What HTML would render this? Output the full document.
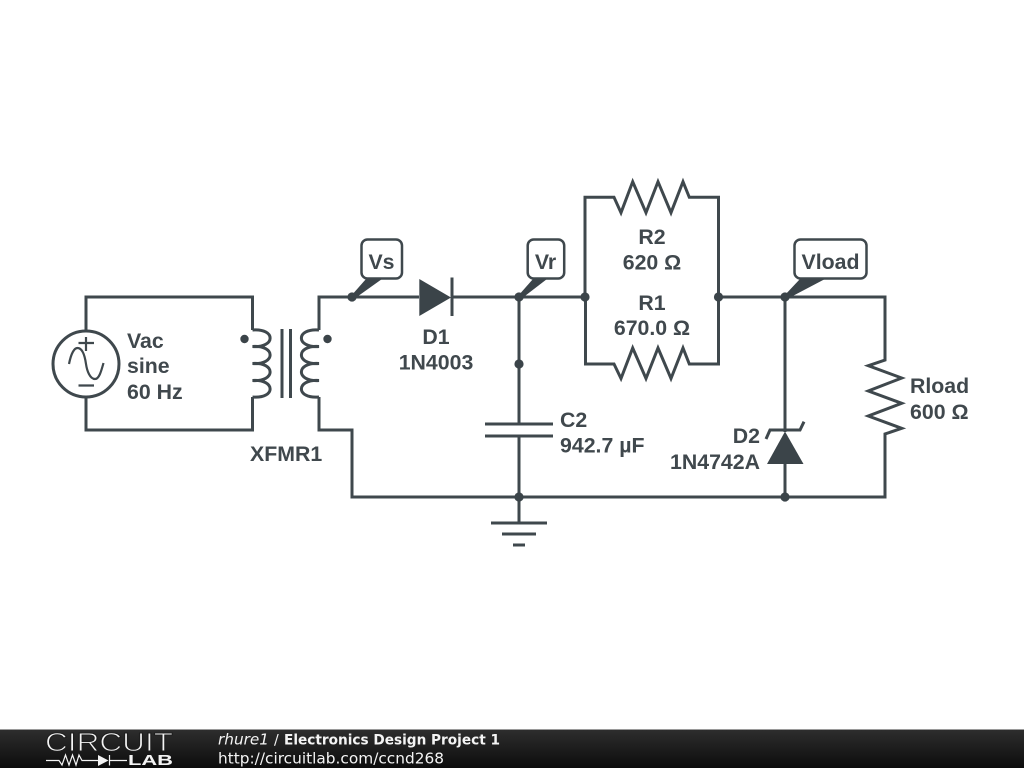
<!DOCTYPE html>
<html><head><meta charset="utf-8"><style>
html,body{margin:0;padding:0;background:#fff;width:1024px;height:768px;overflow:hidden}
svg{display:block}
.w{fill:none;stroke:#3f484d;stroke-width:3;stroke-linejoin:miter}
.t{font:bold 21.3px "Liberation Sans",sans-serif;fill:#40484d}
.m{text-anchor:middle}
.e{text-anchor:end}
.f{font-family:"DejaVu Sans",sans-serif;fill:#f4f4f4}
</style></head><body>
<svg width="1024" height="768" viewBox="0 0 1024 768" xmlns="http://www.w3.org/2000/svg">
<defs><linearGradient id="g" x1="0" y1="0" x2="0" y2="1"><stop offset="0" stop-color="#2e2e2e"/><stop offset="1" stop-color="#0c0c0c"/></linearGradient></defs>
<rect width="1024" height="768" fill="#fff"/>
<g class="w">
<path d="M86 331V297H252.500V330"/>
<path d="M86 397V430H252.500V397"/>
<circle cx="86" cy="364" r="33"/>
<path d="M252.500 330C276 328 276 348 252.500 346.500C276 345 276 365 252.500 363.500C276 362 276 382 252.500 380.500C276 379 276 399 252.500 397"/>
<path d="M319 330C295.500 328 295.500 348 319 346.500C295.500 345 295.500 365 319 363.500C295.500 362 295.500 382 319 380.500C295.500 379 295.500 399 319 397"/>
<path d="M282 329V398M290.500 329V398"/>
<path d="M319 330V297H419M452 297H585"/>
<path d="M319 397V430H352V497H885V434L901.700 428.300 868.300 416 901.700 403.300 868.300 391 901.700 378 868.300 365.700 885 360V297H718"/>
<path d="M452 277.500V316"/>
<path d="M519 297V424M519 436V523"/>
<path d="M485 424H553M485 436H553"/>
<path d="M491 523H547M502 534H536M513 545H525"/>
<path d="M585 297V197.300H614L621 212.700 632.700 181.700 646 212.700 658 181.700 671 212.700 683 181.700 689.300 197.300H718.500V364H689.300L683 348 671 378.500 658 348 646 378.500 632.700 348 621 378.500 614 364H585.500V297"/>
<path d="M785 297V432M785 463V497"/>
<path d="M766 439L770 430H800L804 421.700"/>
</g>
<g fill="none" stroke="#3f484d" stroke-width="2.200">
<path d="M69 364C71 354 74 348 77.500 348C83 348 85 357 86 364C87 371 90 379 95 379C99 379 101 372 103.500 363"/>
<path d="M78.500 343H94M86 337V351M78.500 385.500H94"/>
</g>
<g fill="#3b4449">
<circle cx="244.500" cy="339" r="4.200"/><circle cx="327.500" cy="339" r="4.200"/>
<path d="M419.300 279V316L451 297.500Z"/>
<path d="M785 431.500L767 464H803.500Z"/>
<circle cx="352" cy="297" r="4.600"/><circle cx="519" cy="297" r="4.600"/><circle cx="585" cy="297" r="4.600"/>
<circle cx="718.500" cy="297" r="4.600"/><circle cx="785" cy="297" r="4.600"/>
<circle cx="519" cy="364" r="4.600"/><circle cx="519" cy="497" r="4.600"/><circle cx="785" cy="497" r="4.600"/>
<path d="M351 296L366 279H382L354 299Z"/><path d="M518 296L533 279H547L521 299Z"/><path d="M784 296L800 279H825L787 299Z"/>
</g>
<g fill="#fff" stroke="#3f484d" stroke-width="2.500">
<rect x="361.500" y="239.500" width="40.500" height="39" rx="6"/>
<rect x="527.700" y="239.500" width="36.500" height="39" rx="6"/>
<rect x="794.500" y="239.500" width="72" height="39" rx="6"/>
</g>
<text class="t" x="127" y="348">Vac</text>
<text class="t" x="127" y="373">sine</text>
<text class="t" x="127" y="399">60 Hz</text>
<text class="t" x="250" y="461">XFMR1</text>
<text class="t m" x="381.500" y="269">Vs</text>
<text class="t m" x="545.500" y="269">Vr</text>
<text class="t m" x="830.500" y="269">Vload</text>
<text class="t m" x="436" y="344">D1</text>
<text class="t m" x="436" y="369.500">1N4003</text>
<text class="t m" x="652" y="244">R2</text>
<text class="t m" x="652" y="269.500">620 Ω</text>
<text class="t m" x="652" y="310">R1</text>
<text class="t m" x="652" y="335">670.0 Ω</text>
<text class="t" x="560" y="427">C2</text>
<text class="t" x="560" y="452.500">942.7 µF</text>
<text class="t e" x="760" y="443">D2</text>
<text class="t e" x="760" y="469">1N4742A</text>
<text class="t" x="910" y="393">Rload</text>
<text class="t" x="910" y="419">600 Ω</text>
<rect y="729" width="1024" height="39" fill="url(#g)"/>
<rect y="729" width="1024" height="1" fill="#9a9a9a"/>
<text x="45" y="751" font-family="Liberation Sans,sans-serif" font-size="26" fill="#f4f4f4" stroke="#1e1e1e" stroke-width="1" textLength="128" lengthAdjust="spacingAndGlyphs">CIRCUIT</text>
<path d="M46 760.500H59L62 765 65.500 755 69 765 72.500 755 76 765 79 755 82 760.500H98M109.500 760.500H127M109.500 755V765.500" fill="none" stroke="#f4f4f4" stroke-width="1.200"/>
<path d="M98 755V766L108.500 760.500Z" fill="#f4f4f4"/>
<text x="128" y="765" font-family="Liberation Sans,sans-serif" font-weight="bold" font-size="14.500" fill="#f4f4f4" textLength="45" lengthAdjust="spacingAndGlyphs">LAB</text>
<text class="f" x="218" y="744.500" font-size="15" font-style="italic" textLength="51" lengthAdjust="spacingAndGlyphs">rhure1</text>
<text class="f" x="274" y="744.500" font-size="14">/</text>
<text class="f" x="284" y="744.500" font-size="14" font-weight="bold" textLength="216" lengthAdjust="spacingAndGlyphs">Electronics Design Project 1</text>
<text class="f" x="218" y="763.500" font-size="15" textLength="226" lengthAdjust="spacingAndGlyphs">http://circuitlab.com/ccnd268</text>
</svg>
</body></html>
